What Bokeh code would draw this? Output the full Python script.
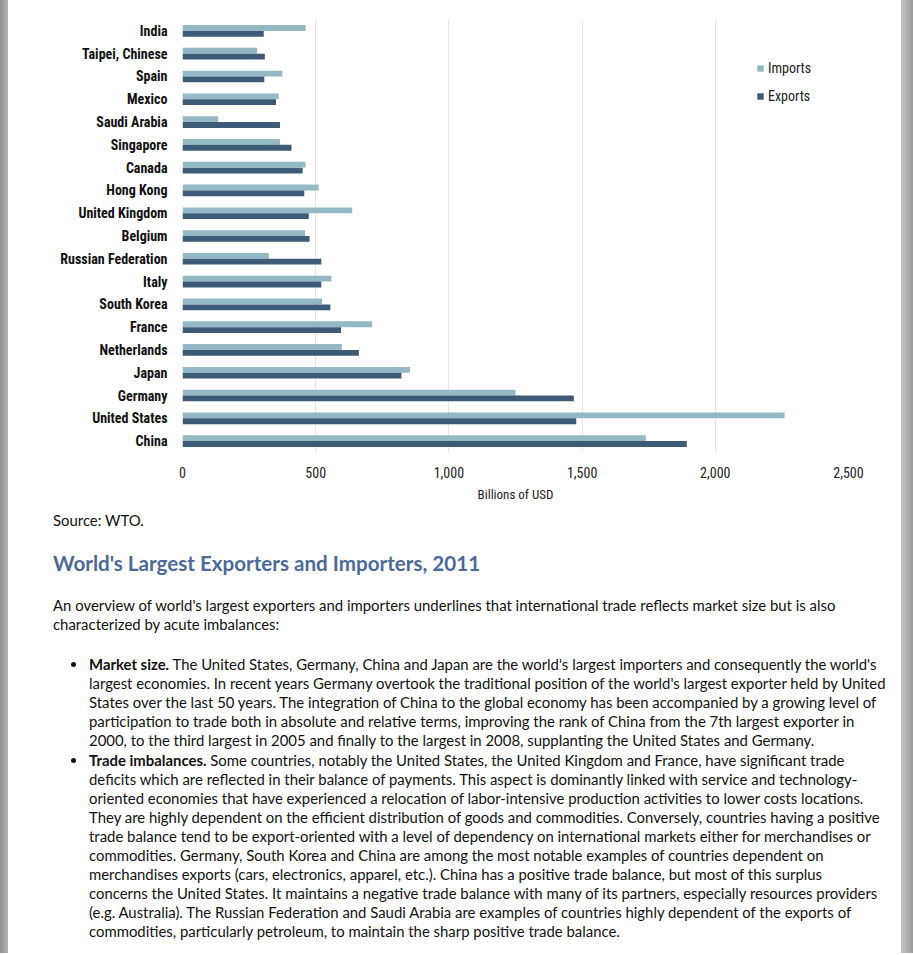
from bokeh.plotting import figure
from bokeh.models import (FactorRange, Range1d, FixedTicker, NumeralTickFormatter, Legend, LegendItem,
                          Div, ColumnDataSource)
from bokeh.layouts import column, row
from bokeh.transform import dodge
from bokeh.embed import file_html
from bokeh.resources import INLINE

# ---------------- data ----------------
countries = ["India", "Taipei, Chinese", "Spain", "Mexico", "Saudi Arabia", "Singapore",
             "Canada", "Hong Kong", "United Kingdom", "Belgium", "Russian Federation",
             "Italy", "South Korea", "France", "Netherlands", "Japan", "Germany",
             "United States", "China"]
imports = [462, 280, 375, 361, 134, 366, 462, 511, 637, 460, 324, 559, 524, 712, 598, 854, 1250, 2260, 1739]
exports = [305, 309, 307, 351, 366, 409, 451, 457, 474, 477, 521, 521, 555, 595, 662, 822, 1469, 1478, 1893]
x_ticks = [0, 500, 1000, 1500, 2000, 2500]
x_label = "Billions of USD"
series_names = ["Imports", "Exports"]

source_note = "Source: WTO."
heading = "World's Largest Exporters and Importers, 2011"
intro_lines = [
    "An overview of world's largest exporters and importers underlines that international trade reflects market size but is also",
    "characterized by acute imbalances:",
]
bullet1_lead = "Market size."
bullet1_lines = [
    " The United States, Germany, China and Japan are the world's largest importers and consequently the world's",
    "largest economies. In recent years Germany overtook the traditional position of the world's largest exporter held by United",
    "States over the last 50 years. The integration of China to the global economy has been accompanied by a growing level of",
    "participation to trade both in absolute and relative terms, improving the rank of China from the 7th largest exporter in",
    "2000, to the third largest in 2005 and finally to the largest in 2008, supplanting the United States and Germany.",
]
bullet2_lead = "Trade imbalances."
bullet2_lines = [
    " Some countries, notably the United States, the United Kingdom and France, have significant trade",
    "deficits which are reflected in their balance of payments. This aspect is dominantly linked with service and technology-",
    "oriented economies that have experienced a relocation of labor-intensive production activities to lower costs locations.",
    "They are highly dependent on the efficient distribution of goods and commodities. Conversely, countries having a positive",
    "trade balance tend to be export-oriented with a level of dependency on international markets either for merchandises or",
    "commodities. Germany, South Korea and China are among the most notable examples of countries dependent on",
    "merchandises exports (cars, electronics, apparel, etc.). China has a positive trade balance, but most of this surplus",
    "concerns the United States. It maintains a negative trade balance with many of its partners, especially resources providers",
    "(e.g. Australia). The Russian Federation and Saudi Arabia are examples of countries highly dependent of the exports of",
    "commodities, particularly petroleum, to maintain the sharp positive trade balance.",
]

# ---------------- styles ----------------
IMP_COLOR = "#94B9C5"
EXP_COLOR = "#3D5A77"
NARROW = "Roboto Condensed"
BODY_FONT = "Lato"
PAGE_W = 913
TOTAL_H = 953
CHART_H = 508
LEFT_STRIP = 8
RIGHT_STRIP = 12
LEFT_GRAD = "linear-gradient(to right, #8e8e8e, #b4b4b4)"
RIGHT_GRAD = "linear-gradient(to right, #c4c4c4, #9a9a9a)"

src = ColumnDataSource(dict(country=countries, imports=imports, exports=exports))

fig_w = PAGE_W - LEFT_STRIP - RIGHT_STRIP
p = figure(y_range=FactorRange(factors=countries[::-1]), x_range=Range1d(0, 2500),
           frame_width=666, frame_height=433,
           min_border_left=182 - LEFT_STRIP, min_border_top=19,
           min_border_right=fig_w - (182 - LEFT_STRIP) - 666,
           min_border_bottom=CHART_H - 19 - 433,
           output_backend="svg", toolbar_location=None, background_fill_color="white",
           border_fill_color="white", margin=0)
p.outline_line_color = None

r_imp = p.hbar(y=dodge("country", 0.128, range=p.y_range), right="imports", left=0,
               height=0.255, source=src, fill_color=IMP_COLOR, line_color=None)
r_exp = p.hbar(y=dodge("country", -0.128, range=p.y_range), right="exports", left=0,
               height=0.255, source=src, fill_color=EXP_COLOR, line_color=None)

p.ygrid.grid_line_color = None
p.xgrid.grid_line_color = "#E6E6E6"
p.xgrid.grid_line_width = 1
p.xaxis.ticker = FixedTicker(ticks=x_ticks)
p.xaxis.formatter = NumeralTickFormatter(format="0,0")
p.xaxis.axis_label = x_label

for ax in (p.xaxis[0], p.yaxis[0]):
    ax.axis_line_color = None
    ax.major_tick_line_color = None
    ax.minor_tick_line_color = None

p.yaxis.major_label_text_font = NARROW
p.yaxis.major_label_text_font_style = "bold"
p.yaxis.major_label_text_font_size = "14px"
p.yaxis.major_label_text_color = "#111111"
p.yaxis.major_label_standoff = 9

p.xaxis.major_label_text_font = NARROW
p.xaxis.major_label_text_font_size = "14px"
p.xaxis.major_label_text_color = "#222222"
p.xaxis.major_label_standoff = 8
p.xaxis.axis_label_text_font = NARROW
p.xaxis.axis_label_text_font_size = "13px"
p.xaxis.axis_label_text_font_style = "normal"
p.xaxis.axis_label_text_color = "#222222"
p.xaxis.axis_label_standoff = 6

legend = Legend(items=[LegendItem(label=series_names[0], renderers=[r_imp]),
                       LegendItem(label=series_names[1], renderers=[r_exp])],
                location=(574, 346), orientation="vertical")
legend.glyph_width = 8
legend.glyph_height = 8
legend.label_height = 20
legend.spacing = 8
legend.padding = 0
legend.margin = 0
legend.label_standoff = 4
legend.border_line_color = None
legend.background_fill_alpha = 0
legend.label_text_font = NARROW
legend.label_text_font_size = "14px"
legend.label_text_color = "#222222"
p.add_layout(legend)

# ---------------- window-frame strips beside the chart ----------------
def strip_div(w, h, grad):
    inner = (f'<div style="position:relative;width:{w}px;height:{h}px;">'
             f'<div style="position:absolute;left:0;top:0;width:{w}px;height:{h}px;background:{grad};"></div></div>')
    return Div(text=inner, width=w, height=h, margin=0, styles={"padding": "0"})

left_strip = strip_div(LEFT_STRIP, CHART_H, LEFT_GRAD)
right_strip = strip_div(RIGHT_STRIP, CHART_H, RIGHT_GRAD)

# ---------------- text block ----------------
DIV_TOP = CHART_H
LH = 19
BODY_SIZE = 14.9

def line_div(text, left, center_y, extra=""):
    top = center_y - DIV_TOP - LH / 2
    return (f'<div style="position:absolute;left:{left}px;top:{top}px;line-height:{LH}px;'
            f'white-space:nowrap;{extra}">{text}</div>')

text_h = TOTAL_H - CHART_H
parts = []
parts.append(f'<div style="position:absolute;left:0;top:0;width:{LEFT_STRIP}px;height:{text_h}px;'
             f'background:{LEFT_GRAD};"></div>')
parts.append(f'<div style="position:absolute;left:{PAGE_W - RIGHT_STRIP}px;top:0;width:{RIGHT_STRIP}px;'
             f'height:{text_h}px;background:{RIGHT_GRAD};"></div>')
parts.append(line_div(source_note, 53, 520))
parts.append(f'<div style="position:absolute;left:53px;top:{563 - DIV_TOP - 13}px;line-height:26px;'
             f'white-space:nowrap;font-size:20.6px;font-weight:bold;color:#4B6A97;">{heading}</div>')
for i, t in enumerate(intro_lines):
    parts.append(line_div(t, 53, 605 + LH * i))

def bullet(lead, lines, first_y):
    out = []
    out.append(f'<div style="position:absolute;left:70.5px;top:{first_y - DIV_TOP - 2.5}px;width:5px;height:5px;'
               f'border-radius:50%;background:#111;"></div>')
    for i, t in enumerate(lines):
        txt = (f'<b>{lead}</b>{t}' if i == 0 else t)
        out.append(line_div(txt, 89, first_y + LH * i))
    return out

parts += bullet(bullet1_lead, bullet1_lines, 664)
parts += bullet(bullet2_lead, bullet2_lines, 760)

html = (f'<div style="position:relative;width:{PAGE_W}px;height:{text_h}px;font-family:{BODY_FONT};'
        f'font-size:{BODY_SIZE}px;color:#111;">' + "".join(parts) + '</div>')

div = Div(text=html, width=PAGE_W, height=text_h, margin=0, styles={"padding": "0"})

layout = column(row(left_strip, p, right_strip, spacing=0, margin=0), div, spacing=0, margin=0)
open("out.html", "w").write(file_html(layout, INLINE))
